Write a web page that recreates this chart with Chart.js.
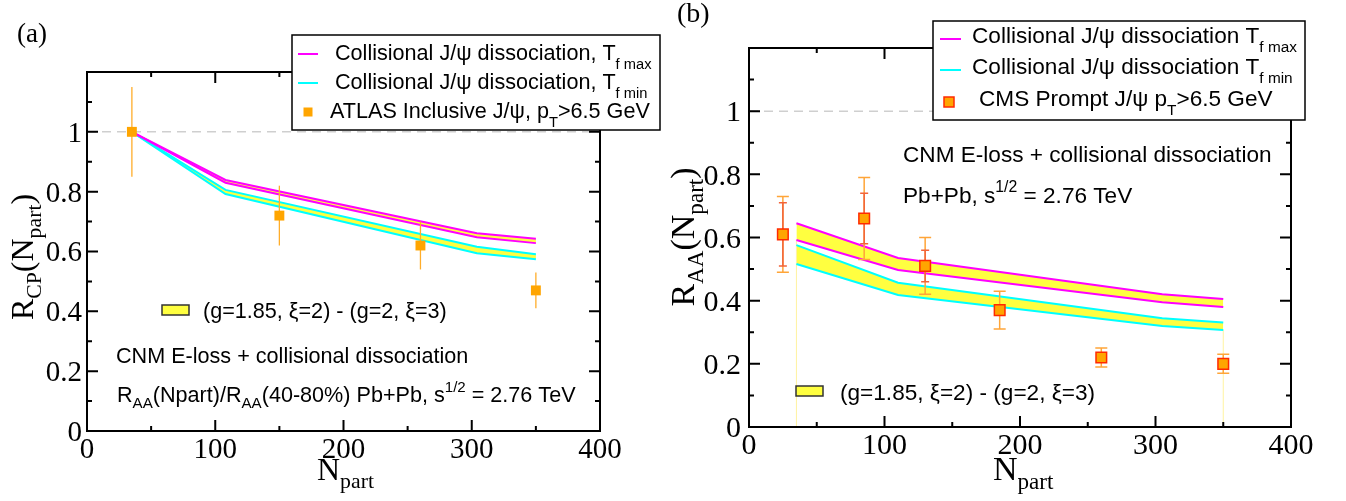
<!DOCTYPE html>
<html>
<head>
<meta charset="utf-8">
<script src="https://cdn.jsdelivr.net/npm/chart.js@4.4.1/dist/chart.umd.min.js"></script>
<style>
  body { margin: 0; background: #fff; }
  #wrap { position: relative; width: 1346px; height: 501px; overflow: hidden; }
  #wrap canvas { position: absolute; top: 0; }
</style>
</head>
<body>
<div id="wrap">
  <canvas id="panelA" width="666" height="501" style="left:0"></canvas>
  <canvas id="panelB" width="680" height="501" style="left:666px"></canvas>
</div>
<script>
// --- panel (a): R_CP vs N_part ---
const npartA = [35, 108, 304, 350];
const rcpTmaxUpper = [1.0, 0.839, 0.661, 0.643];
const rcpTmaxLower = [1.0, 0.830, 0.648, 0.628];
const rcpTminUpper = [1.0, 0.806, 0.616, 0.591];
const rcpTminLower = [1.0, 0.792, 0.594, 0.574];
const atlasNpart = [35, 150, 260, 350];
const atlasRcp = [1.0, 0.72, 0.62, 0.47];
const atlasLow = [0.85, 0.62, 0.54, 0.41];
const atlasHigh = [1.15, 0.82, 0.70, 0.53];

// --- panel (b): R_AA vs N_part ---
const npartB = [35, 110, 305, 350];
const raaTmaxUpper = [0.645, 0.535, 0.420, 0.405];
const raaTmaxLower = [0.592, 0.497, 0.395, 0.380];
const raaTminUpper = [0.576, 0.457, 0.344, 0.331];
const raaTminLower = [0.516, 0.418, 0.320, 0.307];
const cmsNpart = [25, 85, 130, 185, 260, 350];
const cmsRaa = [0.61, 0.66, 0.51, 0.37, 0.22, 0.20];
const cmsSysLow = [0.49, 0.53, 0.42, 0.31, 0.19, 0.17];
const cmsSysHigh = [0.73, 0.79, 0.60, 0.43, 0.25, 0.23];
const cmsStatLow = [0.51, 0.58, 0.46, null, null, null];
const cmsStatHigh = [0.71, 0.74, 0.56, null, null, null];

// --- axes ---
const xMajor = [0, 100, 200, 300, 400];
const xMinor = [50, 150, 250, 350];
const yMajor = [0, 0.2, 0.4, 0.6, 0.8, 1.0, 1.2];
const yMinor = [0.1, 0.3, 0.5, 0.7, 0.9, 1.1];
const xTickLabels = ['0', '100', '200', '300', '400'];
const yTickLabels = ['0', '0.2', '0.4', '0.6', '0.8', '1'];

const SANS = '"Liberation Sans", Arial, sans-serif';
const SERIF = '"Liberation Serif", "Times New Roman", serif';
const MAGENTA = '#ff00ff';
const CYAN = '#00ffff';
const BAND = '#ffff40';
const ORANGE = '#ffa500';

const pts = (xs, ys) => xs.map((x, i) => ({ x: x, y: ys[i] }));

// text with sub/superscripts: parts are strings or [text, 'sub'|'sup']
function richText(ctx, x, y, parts, size, family, opts = {}) {
  const subScale = opts.subScale || 0.7;
  const subDy = opts.subDy != null ? opts.subDy : 0.38;
  const supDy = opts.supDy != null ? opts.supDy : 0.48;
  const segs = parts.map(p => Array.isArray(p) ? { t: p[0], k: p[1] } : { t: p, k: '' });
  let total = 0;
  segs.forEach(s => {
    s.size = s.k ? size * subScale : size;
    ctx.font = s.size + 'px ' + family;
    s.w = ctx.measureText(s.t).width;
    total += s.w;
  });
  let cx = opts.align === 'center' ? x - total / 2 : x;
  ctx.textAlign = 'left';
  ctx.textBaseline = 'alphabetic';
  segs.forEach(s => {
    ctx.font = s.size + 'px ' + family;
    const dy = s.k === 'sub' ? size * subDy : s.k === 'sup' ? -size * supDy : 0;
    ctx.fillText(s.t, cx, y + dy);
    cx += s.w;
  });
  return total;
}

function squareMark(ctx, x, y, side, fill, stroke) {
  ctx.fillStyle = fill;
  ctx.fillRect(x - side / 2, y - side / 2, side, side);
  if (stroke) {
    ctx.strokeStyle = stroke;
    ctx.lineWidth = 1.5;
    ctx.strokeRect(x - side / 2, y - side / 2, side, side);
  }
}

function bandKey(ctx, x, y, w, h) {
  ctx.fillStyle = BAND;
  ctx.fillRect(x, y, w, h);
  ctx.strokeStyle = '#333';
  ctx.lineWidth = 1.5;
  ctx.strokeRect(x, y, w, h);
}

// frame, inward ticks, labels, legend and notes
function decorPlugin(p) {
  return {
    id: 'decor',
    beforeDatasetsDraw(chart) {
      const { ctx, chartArea: a, scales: { x, y } } = chart;
      ctx.save();
      ctx.strokeStyle = '#cfcfcf';
      ctx.lineWidth = 1.5;
      ctx.setLineDash([9, 6]);
      ctx.beginPath();
      ctx.moveTo(a.left, y.getPixelForValue(1));
      ctx.lineTo(a.right, y.getPixelForValue(1));
      ctx.stroke();
      ctx.restore();
    },
    beforeDatasetDraw(chart, args) {
      if (args.index !== p.pointsIndex) return;
      const { ctx, scales: { x, y } } = chart;
      ctx.save();
      p.errorBars.forEach(eb => {
        ctx.strokeStyle = eb.color;
        ctx.lineWidth = eb.width;
        eb.xs.forEach((xv, i) => {
          if (eb.lo[i] == null) return;
          const px = x.getPixelForValue(xv);
          const y1 = y.getPixelForValue(eb.lo[i]);
          const y2 = y.getPixelForValue(eb.hi[i]);
          ctx.beginPath();
          ctx.moveTo(px, y1); ctx.lineTo(px, y2);
          if (eb.cap) {
            ctx.moveTo(px - eb.cap, y1); ctx.lineTo(px + eb.cap, y1);
            ctx.moveTo(px - eb.cap, y2); ctx.lineTo(px + eb.cap, y2);
          }
          ctx.stroke();
        });
      });
      ctx.restore();
    },
    afterDraw(chart) {
      const { ctx, chartArea: a, scales: { x, y } } = chart;
      ctx.save();
      // frame + ticks
      ctx.strokeStyle = '#000';
      ctx.lineWidth = 2;
      ctx.strokeRect(a.left, a.top, a.right - a.left, a.bottom - a.top);
      ctx.beginPath();
      const xt = (v, len) => {
        const px = x.getPixelForValue(v);
        ctx.moveTo(px, a.bottom); ctx.lineTo(px, a.bottom - len);
        ctx.moveTo(px, a.top); ctx.lineTo(px, a.top + len);
      };
      const yt = (v, len) => {
        const py = y.getPixelForValue(v);
        ctx.moveTo(a.left, py); ctx.lineTo(a.left + len, py);
        ctx.moveTo(a.right, py); ctx.lineTo(a.right - len, py);
      };
      xMajor.forEach(v => xt(v, 11));
      xMinor.forEach(v => xt(v, 5));
      yMajor.forEach(v => yt(v, 11));
      yMinor.forEach(v => yt(v, 5));
      ctx.stroke();

      // tick labels
      ctx.fillStyle = '#000';
      ctx.font = p.tickSize + 'px ' + SERIF;
      ctx.textBaseline = 'alphabetic';
      ctx.textAlign = 'center';
      xTickLabels.forEach((t, i) => ctx.fillText(t, x.getPixelForValue(xMajor[i]), a.bottom + p.xLabelDy));
      ctx.textAlign = 'right';
      yTickLabels.forEach((t, i) => ctx.fillText(t, a.left - p.yLabelGap, y.getPixelForValue(yMajor[i]) + p.tickSize * 0.34));

      // page-coordinate decorations
      ctx.translate(-p.ox, 0);
      ctx.fillStyle = '#000';
      richText(ctx, p.tag.x, p.tag.y, [p.tag.text], p.tag.size, SERIF);
      richText(ctx, p.xTitle.x, p.xTitle.y, ['N', ['part', 'sub']], p.titleSize, SERIF, { subScale: 0.68, subDy: 0.26 });
      ctx.save();
      ctx.translate(p.yTitle.x, p.yTitle.y);
      ctx.rotate(-Math.PI / 2);
      richText(ctx, 0, p.titleSize * 0.33, ['R', [p.yTitle.sub, 'sub'], '(N', ['part', 'sub'], ')'], p.titleSize, SERIF, { subScale: 0.68, subDy: 0.26, align: 'center' });
      ctx.restore();

      // notes inside plot
      bandKey(ctx, p.bandKey.x, p.bandKey.y, p.bandKey.w, p.bandKey.h);
      ctx.fillStyle = '#000';
      p.notes.forEach(n => richText(ctx, n.x, n.y, n.parts, p.fontSize, SANS, { subDy: 0.3 }));

      // legend box
      const L = p.legend;
      ctx.fillStyle = '#fff';
      ctx.fillRect(L.x, L.y, L.w, L.h);
      ctx.strokeStyle = '#000';
      ctx.lineWidth = 1.5;
      ctx.strokeRect(L.x, L.y, L.w, L.h);
      L.rows.forEach(r => {
        if (r.line) {
          ctx.strokeStyle = r.line;
          ctx.lineWidth = 2;
          ctx.beginPath();
          ctx.moveTo(L.sx0, r.my); ctx.lineTo(L.sx1, r.my);
          ctx.stroke();
        } else {
          squareMark(ctx, r.sqx, r.my, r.side, ORANGE, r.stroke);
        }
        ctx.fillStyle = '#000';
        richText(ctx, r.tx, r.ty, r.parts, p.fontSize, SANS, { subScale: 0.68, subDy: 0.4 });
      });
      ctx.restore();
    }
  };
}

function lineDs(xs, ys, color, fillNext) {
  return {
    data: pts(xs, ys), borderColor: color, borderWidth: 2, pointRadius: 0,
    tension: 0, fill: fillNext ? '+1' : false, backgroundColor: BAND, order: 2
  };
}

function makePanel(id, p, datasets) {
  return new Chart(document.getElementById(id), {
    type: 'line',
    data: { datasets: datasets },
    options: {
      responsive: false,
      animation: false,
      layout: { padding: p.padding },
      scales: {
        x: { type: 'linear', min: 0, max: 400, display: false },
        y: { type: 'linear', min: 0, max: 1.2, display: false }
      },
      plugins: {
        legend: { display: false },
        tooltip: { enabled: false },
        filler: { drawTime: 'beforeDatasetsDraw' }
      }
    },
    plugins: [decorPlugin(p)]
  });
}

// panel (a)
makePanel('panelA', {
  ox: 0,
  padding: { left: 87, top: 72, right: 66, bottom: 70 },
  fontSize: 21.6, tickSize: 29, titleSize: 32, xLabelDy: 27, yLabelGap: 5,
  tag: { x: 17, y: 42, text: '(a)', size: 27 },
  xTitle: { x: 317, y: 480 },
  yTitle: { x: 22, y: 257, sub: 'CP' },
  pointsIndex: 4,
  errorBars: [{ xs: atlasNpart, lo: atlasLow, hi: atlasHigh, color: '#ffad2a', width: 1.3, cap: 0 }],
  bandKey: { x: 162, y: 305, w: 27, h: 10 },
  notes: [
    { x: 203, y: 318, parts: ['(g=1.85, ξ=2) - (g=2, ξ=3)'] },
    { x: 116, y: 363, parts: ['CNM E-loss + collisional dissociation'] },
    { x: 117, y: 402, parts: ['R', ['AA', 'sub'], '(Npart)/R', ['AA', 'sub'], '(40-80%) Pb+Pb, s', ['1/2', 'sup'], ' = 2.76 TeV'] }
  ],
  legend: {
    x: 292, y: 35, w: 368, h: 95, sx0: 298, sx1: 318,
    rows: [
      { line: MAGENTA, my: 54, tx: 335, ty: 60, parts: ['Collisional J/ψ dissociation, T', ['f max', 'sub']] },
      { line: CYAN, my: 83, tx: 335, ty: 89, parts: ['Collisional J/ψ dissociation, T', ['f min', 'sub']] },
      { sqx: 308, my: 112, side: 9, tx: 330, ty: 118, parts: ['ATLAS Inclusive J/ψ, p', ['T', 'sub'], '>6.5 GeV'] }
    ]
  }
}, [
  lineDs(npartA, rcpTmaxUpper, MAGENTA, true),
  lineDs(npartA, rcpTmaxLower, MAGENTA, false),
  lineDs(npartA, rcpTminUpper, CYAN, true),
  lineDs(npartA, rcpTminLower, CYAN, false),
  {
    data: pts(atlasNpart, atlasRcp), showLine: false, pointStyle: 'rect',
    pointRadius: 7, pointBackgroundColor: ORANGE, pointBorderWidth: 0, order: 0
  }
]);

// panel (b)
makePanel('panelB', {
  ox: 666,
  padding: { left: 83, top: 48, right: 55, bottom: 74 },
  fontSize: 22.6, tickSize: 30, titleSize: 34, xLabelDy: 27, yLabelGap: 8,
  tag: { x: 677, y: 22, text: '(b)', size: 28 },
  xTitle: { x: 993, y: 480 },
  yTitle: { x: 683, y: 237, sub: 'AA' },
  pointsIndex: 6,
  errorBars: [
    { xs: cmsNpart, lo: cmsSysLow, hi: cmsSysHigh, color: '#ffa538', width: 1.5, cap: 6 },
    { xs: cmsNpart, lo: cmsStatLow, hi: cmsStatHigh, color: '#f2643a', width: 1.5, cap: 4 }
  ],
  bandKey: { x: 796, y: 386, w: 27, h: 10 },
  notes: [
    { x: 840, y: 400, parts: ['(g=1.85, ξ=2) - (g=2, ξ=3)'] },
    { x: 903, y: 162, parts: ['CNM E-loss + collisional dissociation'] },
    { x: 903, y: 203, parts: ['Pb+Pb, s', ['1/2', 'sup'], ' = 2.76 TeV'] }
  ],
  legend: {
    x: 933, y: 21, w: 372, h: 99, sx0: 940, sx1: 961,
    rows: [
      { line: MAGENTA, my: 39, tx: 972, ty: 43, parts: ['Collisional J/ψ dissociation T', ['f max', 'sub']] },
      { line: CYAN, my: 70, tx: 972, ty: 74, parts: ['Collisional J/ψ dissociation T', ['f min', 'sub']] },
      { sqx: 949, my: 102, side: 10, stroke: '#ff2a00', tx: 979, ty: 106, parts: ['CMS Prompt J/ψ p', ['T', 'sub'], '>6.5 GeV'] }
    ]
  }
}, [
  lineDs(npartB, raaTmaxUpper, MAGENTA, true),
  lineDs(npartB, raaTmaxLower, MAGENTA, false),
  lineDs(npartB, raaTminUpper, CYAN, true),
  lineDs(npartB, raaTminLower, CYAN, false),
  // faint edges of the filled band down to zero
  { data: [{ x: npartB[0], y: 0 }, { x: npartB[0], y: raaTmaxLower[0] }], borderColor: '#fff3a0', borderWidth: 1, pointRadius: 0, order: 3 },
  { data: [{ x: npartB[3], y: 0 }, { x: npartB[3], y: raaTminLower[3] }], borderColor: '#fff3a0', borderWidth: 1, pointRadius: 0, order: 3 },
  {
    data: pts(cmsNpart, cmsRaa), showLine: false, pointStyle: 'rect',
    pointRadius: 7.5, pointBackgroundColor: ORANGE, pointBorderColor: '#ff2a00', pointBorderWidth: 1.5, order: 0
  }
]);
</script>
</body>
</html>
